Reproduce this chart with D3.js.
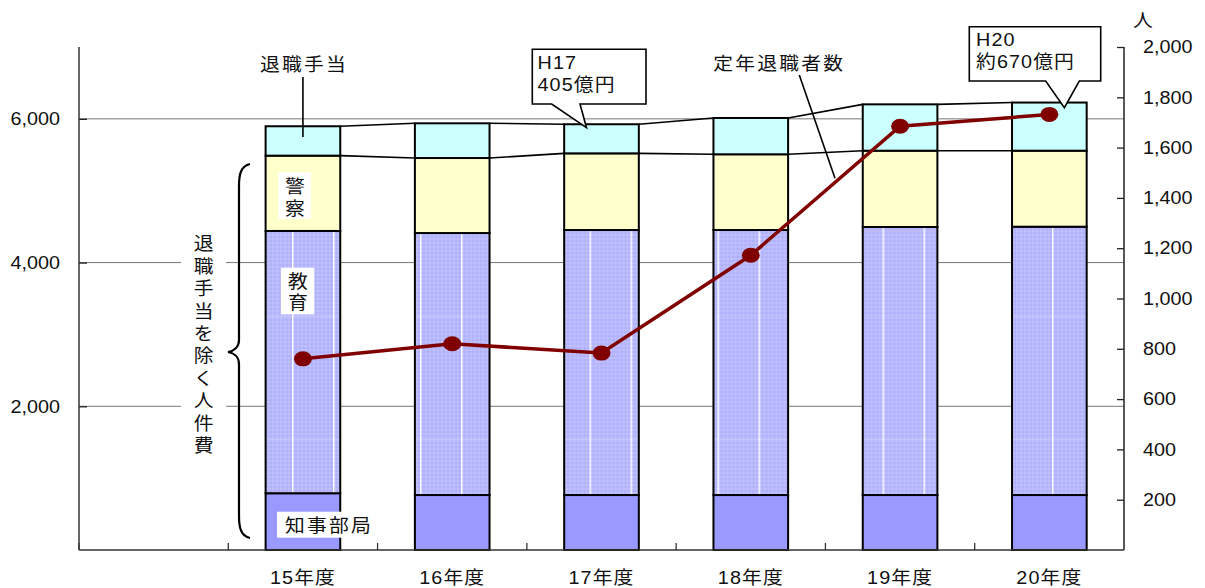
<!DOCTYPE html>
<html>
<head>
<meta charset="utf-8">
<script src="https://cdn.jsdelivr.net/npm/d3@7"></script>
<style>
  html, body { margin: 0; padding: 0; background: #fff; }
  svg { display: block; font-family: "Liberation Sans", Arial, "Noto Sans CJK JP", sans-serif; }
</style>
</head>
<body>
<svg id="chart" width="1205" height="588"></svg>
<script>
// 人件費の内訳（億円, 左軸）と定年退職者数（人, 右軸）
const categories = ["15年度", "16年度", "17年度", "18年度", "19年度", "20年度"];
const chijiBukyoku = [790, 765, 765, 765, 765, 765];      // 知事部局
const kyoiku = [3650, 3646, 3688, 3688, 3730, 3734];       // 教育
const keisatsu = [1048, 1044, 1067, 1054, 1062, 1058];     // 警察
const taishokuTeate = [409, 483, 405, 505, 645, 670];      // 退職手当
const teinenTaishokusha = [760, 820, 783, 1172, 1685, 1732]; // 定年退職者数
const leftTicks = [2000, 4000, 6000];
const rightTicks = [200, 400, 600, 800, 1000, 1200, 1400, 1600, 1800, 2000];
const seriesNames = ["知事部局", "教育", "警察", "退職手当"];

const svg = d3.select("#chart");
const SX = 1.1; // horizontal stretch applied to text

function stretch(sel) {
  sel.each(function () {
    const t = d3.select(this);
    const x0 = +t.attr("x") || 0;
    t.attr("x", x0 / SX).attr("transform", `scale(${SX},1)`);
  });
}

const plotLeft = 79, plotRight = 1124, plotTop = 47, plotBottom = 550;
const yL = d3.scaleLinear().domain([0, 7000]).range([plotBottom, plotTop]);
const yR = d3.scaleLinear().domain([0, 2000]).range([plotBottom, plotTop]);
const x = d3.scaleBand().domain(["", ...categories]).range([plotLeft, plotRight])
  .paddingInner(0.5).paddingOuter(0.25);
const bw = x.bandwidth();
const step = x.step();

// table of rows for stacking
const rows = categories.map((c, i) => ({
  cat: c,
  "知事部局": chijiBukyoku[i],
  "教育": kyoiku[i],
  "警察": keisatsu[i],
  "退職手当": taishokuTeate[i]
}));
const stacked = d3.stack().keys(seriesNames)(rows);

// fill pattern for 教育
const defs = svg.append("defs");
const weave = defs.append("pattern").attr("id", "weave")
  .attr("patternUnits", "userSpaceOnUse").attr("width", 4).attr("height", 4);
weave.append("rect").attr("width", 4).attr("height", 4).attr("fill", "#b0b0fb");
weave.append("path").attr("d", "M0,2 L2,0 L4,2 L2,4 Z").attr("fill", "#c0c0ff");
const stripeOffsets = [292, 420, 589.5, 758.5, 882.5, 1052];
stripeOffsets.forEach((ox, i) => {
  const p = defs.append("pattern").attr("id", "edu" + i)
    .attr("patternUnits", "userSpaceOnUse").attr("width", 41).attr("height", 123)
    .attr("patternTransform", `translate(${ox},70)`);
  p.append("rect").attr("width", 41).attr("height", 123).attr("fill", "url(#weave)");
  p.append("rect").attr("x", 0).attr("y", 0).attr("width", 41).attr("height", 1).attr("fill", "#c4c4ff");
  p.append("rect").attr("x", 0).attr("y", 0).attr("width", 1.4).attr("height", 123).attr("fill", "#ffffff");
});

// gridlines
svg.append("g").selectAll("line").data(leftTicks).join("line")
  .attr("x1", plotLeft).attr("x2", plotRight)
  .attr("y1", d => yL(d)).attr("y2", d => yL(d))
  .attr("stroke", "#777").attr("stroke-width", 1);

// vertical caption behind a white panel
svg.append("rect").attr("x", 181).attr("y", 232).attr("width", 45).attr("height", 226).attr("fill", "#fff");
const vCaption = "退職手当を除く人件費".split("");
svg.append("g").selectAll("text").data(vCaption).join("text")
  .attr("x", 203.7).attr("y", (d, i) => 244 + i * 22.4)
  .attr("dy", "0.36em").attr("text-anchor", "middle")
  .attr("font-size", 18).attr("fill", "#111").text(d => d)
  .call(stretch);

// brace
svg.append("path")
  .attr("d", "M250,164 C241,166 239,174 239,186 L239,340 C239,347 234,351 228,352 C234,353 239,357 239,364 L239,516 C239,528 241,536 250,538")
  .attr("fill", "none").attr("stroke", "#000").attr("stroke-width", 2.2);

// stacked bars
const fills = { "知事部局": () => "#9999ff", "教育": i => `url(#edu${i})`, "警察": () => "#ffffcc", "退職手当": () => "#ccffff" };
svg.append("g").selectAll("g").data(stacked).join("g")
  .each(function (layer) {
    d3.select(this).selectAll("rect").data(layer).join("rect")
      .attr("x", d => x(d.data.cat))
      .attr("y", d => yL(d[1]))
      .attr("width", bw)
      .attr("height", d => yL(d[0]) - yL(d[1]))
      .attr("fill", (d, i) => fills[layer.key](i))
      .attr("stroke", "#000").attr("stroke-width", 2);
  });

// series connector lines (upper two segments)
[stacked[2], stacked[3]].forEach(layer => {
  svg.append("g").selectAll("line").data(layer.slice(0, -1)).join("line")
    .attr("x1", d => x(d.data.cat) + bw)
    .attr("y1", d => yL(d[1]))
    .attr("x2", (d, i) => x(layer[i + 1].data.cat))
    .attr("y2", (d, i) => yL(layer[i + 1][1]))
    .attr("stroke", "#000").attr("stroke-width", 1.6);
});

// axes
const axL = svg.append("g").attr("transform", `translate(${plotLeft},0)`)
  .call(d3.axisLeft(yL).tickValues(leftTicks).tickSize(-8).tickPadding(19).tickFormat(d3.format(",")));
const axR = svg.append("g").attr("transform", `translate(${plotRight},0)`)
  .call(d3.axisRight(yR).tickValues(rightTicks).tickSize(-7).tickPadding(19).tickFormat(d3.format(",")));
[axL, axR].forEach(ax => {
  ax.select(".domain").remove();
  ax.attr("font-family", null);
  ax.selectAll("line").attr("stroke", "#222").attr("stroke-width", 1.3);
  ax.selectAll("text").attr("font-size", 18).attr("fill", "#111").call(stretch);
});
svg.append("line").attr("x1", plotLeft).attr("x2", plotLeft).attr("y1", plotTop).attr("y2", plotBottom).attr("stroke", "#333").attr("stroke-width", 1.5);
svg.append("line").attr("x1", plotRight).attr("x2", plotRight).attr("y1", plotTop).attr("y2", plotBottom).attr("stroke", "#222").attr("stroke-width", 1.5);
svg.append("line").attr("x1", plotLeft).attr("x2", plotRight).attr("y1", plotBottom).attr("y2", plotBottom).attr("stroke", "#333").attr("stroke-width", 1.5);

// category separators on the bottom axis
svg.append("g").selectAll("line").data(x.domain()).join("line")
  .attr("x1", d => x(d) - step / 4).attr("x2", d => x(d) - step / 4)
  .attr("y1", plotBottom).attr("y2", plotBottom - 7)
  .attr("stroke", "#333").attr("stroke-width", 1.3);

// category labels
svg.append("g").selectAll("text").data(categories).join("text")
  .attr("x", d => x(d) + bw / 2).attr("y", 584)
  .attr("text-anchor", "middle").attr("font-size", 18).attr("letter-spacing", 1)
  .attr("fill", "#111").text(d => d)
  .call(stretch);

// 定年退職者数 line
const cx = (d, i) => x(categories[i]) + bw / 2;
svg.append("path").datum(teinenTaishokusha)
  .attr("d", d3.line().x(cx).y(d => yR(d)))
  .attr("fill", "none").attr("stroke", "#800000").attr("stroke-width", 3.5);
svg.append("g").selectAll("ellipse").data(teinenTaishokusha).join("ellipse")
  .attr("cx", cx).attr("cy", d => yR(d)).attr("rx", 9).attr("ry", 7.5)
  .attr("fill", "#800000");

// annotations
function label(txt, xx, yy, opts = {}) {
  return svg.append("text").attr("x", xx).attr("y", yy)
    .attr("font-size", opts.size || 18)
    .attr("letter-spacing", opts.ls == null ? 2 : opts.ls)
    .attr("text-anchor", opts.anchor || "start")
    .attr("fill", "#111").text(txt).call(stretch);
}

// inline segment labels in the first bar
const b0 = x(categories[0]);
svg.append("rect").attr("x", b0 + 12.7).attr("y", 172.3).attr("width", 32.7).attr("height", 46.7).attr("fill", "#fff");
label("警", b0 + 29.2, 193, { anchor: "middle", ls: 0 });
label("察", b0 + 29.2, 215, { anchor: "middle", ls: 0 });
svg.append("rect").attr("x", b0 + 15.4).attr("y", 267.7).attr("width", 33.3).attr("height", 46.6).attr("fill", "#fff");
label("教", b0 + 32.2, 288.5, { anchor: "middle", ls: 0 });
label("育", b0 + 32.2, 309.5, { anchor: "middle", ls: 0 });
svg.append("rect").attr("x", b0 + 11.4).attr("y", 511.7).attr("width", 98.7).attr("height", 26).attr("fill", "#fff");
label("知事部局", b0 + 19.5, 532.5, { ls: 2 });

// 退職手当 leader
const c0 = b0 + bw / 2;
label("退職手当", c0 + 1, 71, { anchor: "middle", ls: 2 });
svg.append("line").attr("x1", c0).attr("x2", c0).attr("y1", 77).attr("y2", 137)
  .attr("stroke", "#000").attr("stroke-width", 1.6);

// 定年退職者数 leader
label("定年退職者数", 713.3, 70, { ls: 2 });
svg.append("line").attr("x1", 799.3).attr("y1", 75).attr("x2", 835).attr("y2", 178.3)
  .attr("stroke", "#000").attr("stroke-width", 1.6);

// callouts
function callout(bx0, by0, bx1, by1, p1, p2, tx, ty) {
  svg.append("path")
    .attr("d", `M${bx0},${by0} H${bx1} V${by1} H${p2} L${tx},${ty} L${p1},${by1} H${bx0} Z`)
    .attr("fill", "#fff").attr("stroke", "#000").attr("stroke-width", 1.6);
}
const t17 = x("17年度") + bw / 2;
const t20 = x("20年度") + bw / 2;
callout(532.3, 49.3, 646, 104, 551.7, 580, t17 - 15, 127.7);
label("H17", 537.5, 69, { ls: 1 });
label("405億円", 537.5, 91, { ls: 1 });
callout(969.3, 26.7, 1100.7, 81, 1045.7, 1079.3, t20 + 15, 107.7);
label("H20", 976, 46, { ls: 1 });
label("約670億円", 976, 68, { ls: 1 });

// unit for the right axis
label("人", 1143, 27, { anchor: "middle", ls: 0 });
</script>
</body>
</html>
